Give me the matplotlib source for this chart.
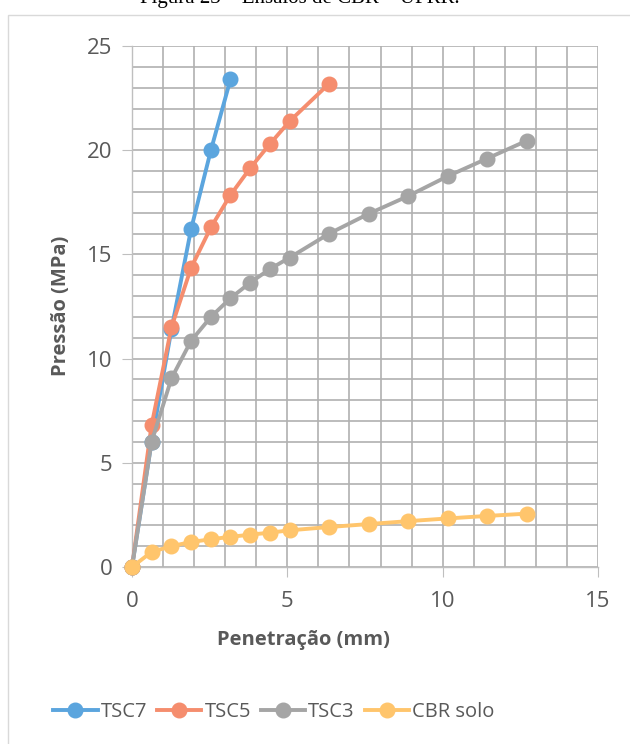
import matplotlib
matplotlib.use("Agg")
import matplotlib.pyplot as plt
from matplotlib.patches import Rectangle

plt.rcParams['font.family'] = ['Open Sans', 'DejaVu Sans']

penetracao = [0, 0.63, 1.27, 1.90, 2.54, 3.17, 3.81, 4.44, 5.08, 6.35, 7.62, 8.89, 10.16, 11.43, 12.70]
tsc7 = [0, 6.0, 11.4, 16.2, 20.0, 23.4]
tsc5 = [0, 6.8, 11.5, 14.35, 16.3, 17.85, 19.15, 20.3, 21.4, 23.2]
tsc3 = [0, 6.0, 9.05, 10.85, 12.0, 12.9, 13.65, 14.3, 14.85, 16.0, 16.95, 17.8, 18.75, 19.6, 20.45]
cbr_solo = [0, 0.72, 1.0, 1.2, 1.33, 1.45, 1.55, 1.65, 1.76, 1.92, 2.06, 2.2, 2.33, 2.45, 2.56]

series_names = ['TSC7', 'TSC5', 'TSC3', 'CBR solo']
colors = ['#5BA5DE', '#F58D6E', '#A5A5A5', '#FFC56C']

x_ticks = [0, 5, 10, 15]
y_ticks = [0, 5, 10, 15, 20, 25]

W, H = 630, 744
fig = plt.figure(figsize=(W / 100, H / 100), dpi=100)

# chart border
fig.patches.append(Rectangle((8 / W, -0.01), 1.0, 1 - 15 / H + 0.01, transform=fig.transFigure,
                             fill=False, edgecolor='#d9d9d9', linewidth=1.0))

fig.text(300 / W, 1 + 1 / H, 'Figura 23 – Ensaios de CBR – UFRR.', ha='center', va='center',
         fontsize=15, family='Liberation Serif', color='black')

ax = fig.add_axes([132 / W, 1 - 567 / H, (598 - 132) / W, (567 - 46) / H])

for name, ys, c in zip(series_names, [tsc7, tsc5, tsc3, cbr_solo], colors):
    ax.plot(penetracao[:len(ys)], ys, color=c, lw=2.8, marker='o', markersize=10.5,
            label=name, clip_on=False, zorder=3)

ax.set_xlim(0, 15)
ax.set_ylim(0, 25)
ax.set_xticks(x_ticks)
ax.set_yticks(y_ticks)
ax.set_xticks(range(0, 16), minor=True)
ax.set_yticks(range(0, 26), minor=True)
ax.grid(True, which='both', color='#b0b0b0', lw=1.2, zorder=0)
ax.set_axisbelow(True)

for s in ['top', 'right']:
    ax.spines[s].set_visible(False)
for s in ['left', 'bottom']:
    ax.spines[s].set_color('#bfbfbf')
    ax.spines[s].set_linewidth(1.0)
ax.tick_params(which='major', length=7, color='#bfbfbf', labelsize=16, labelcolor='#595959', pad=7)
ax.tick_params(which='minor', length=0)
ax.tick_params(axis='x', pad=10)

fig.text(303 / W, 1 - 640 / H, 'Penetração (mm)', ha='center', va='center', fontsize=14.5,
         fontweight='bold', color='#595959')
fig.text(61 / W, 1 - 306 / H, 'Pressão (MPa)', ha='center', va='center', rotation=90,
         fontsize=14.5, fontweight='bold', color='#595959')

handles, labels = ax.get_legend_handles_labels()
fig.legend(handles, labels, loc='center', bbox_to_anchor=(274 / W, 1 - 712 / H), ncol=4,
           frameon=False, fontsize=14.5, handlelength=2.2, columnspacing=0.5, handletextpad=0.15,
           labelcolor='#595959')

fig.savefig('out.png', dpi=100)
